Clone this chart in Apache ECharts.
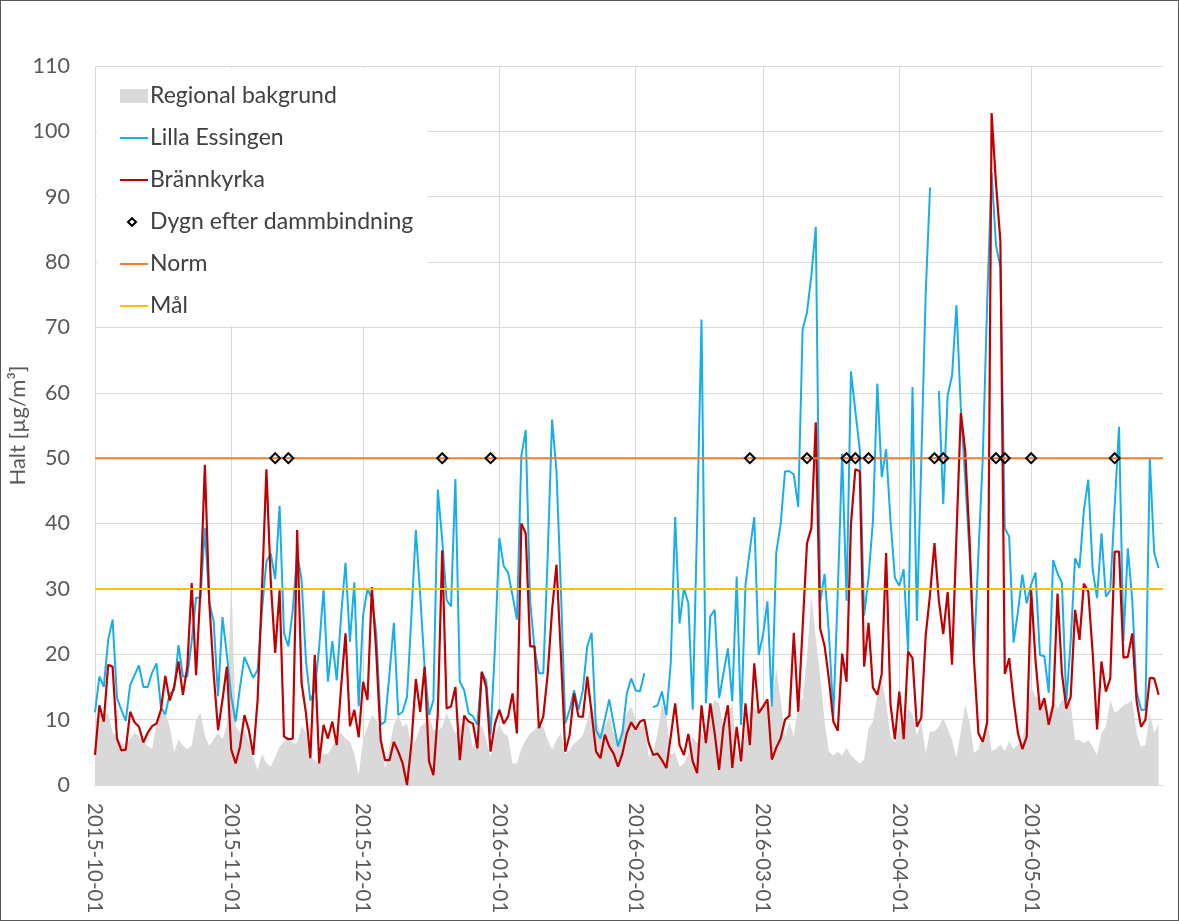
<!DOCTYPE html>
<html><head><meta charset="utf-8">
<script src="https://cdn.jsdelivr.net/npm/echarts@6/dist/echarts.min.js"></script>
<style>
html,body{margin:0;padding:0;background:#fff}
#c{width:1179px;height:921px;position:absolute;left:0;top:0}
#f{position:absolute;left:0;top:0;width:1179px;height:921px;box-sizing:border-box;border:1px solid #595959;pointer-events:none}
</style>
</head><body><div id="c"></div><div id="f"></div>
<script>
// ---- Data ----
const START_DATE = '2015-10-01';
const AXIS_DAYS = 244; // 2015-10-01 .. 2016-06-01 (axis end)

const regional = [
9.5,11,10.5,11,8,7.5,6.5,6,7,8,
7.5,6.5,6,5.5,9.5,11,11,9,5,7,
6,5.5,6,10,11,7.5,6,7,8,7,
9,32,9,8,8.5,6.6,4.3,2.3,4.8,3.3,
2.8,4.3,5.9,6.6,7.4,6.4,6.4,9,8,4.3,
3.8,3.3,4.8,4.8,5.9,6.9,8,7.1,6.6,4.8,
1.5,7,8.9,10.7,10,8,2.5,5.9,9.2,10.7,
8.9,9.4,5.9,6.9,8.9,9.4,10.5,8.4,8.2,8.9,
11,9.4,7.9,8.9,9.7,9.4,5.6,7.9,9.2,6.9,
4.3,7.9,9.2,7.9,7.4,3.3,3.3,5.6,6.9,7.9,
8.4,9.2,8.9,6.9,5.4,6.9,7.9,4.8,5.4,6.4,
6.9,7.6,9.9,12.5,9.9,7.9,8.9,10.5,7.9,6.9,
8.9,11,12,10,8.9,9.4,4.3,5.1,7.9,12.5,
10.7,4.6,5.1,2.8,3.3,4.8,7.4,6.4,7.9,6.9,
11.5,13,12.5,8.4,10.9,12.5,4.8,4.3,7.9,11,
12,11,12,12.6,12,17.8,13.2,7.4,9.7,7.4,
12.6,13.2,19.6,29,22.5,16.7,9.7,5.1,4.5,5.1,
4.5,5.7,4.5,3.9,3.3,3.9,8.6,9.7,13.8,16.1,
12.6,7.4,6.5,8.5,9.6,11.6,10.9,7.6,9.6,4.9,
8.2,8.2,8.9,10.3,8.6,6.9,4.2,8.2,12.3,9.6,
4.9,5.5,7.6,10.3,5.2,5.5,6.2,5.2,6.6,5.5,
6.2,6.9,10.5,15,13.5,13.3,12.5,11,13,11.7,
13,13,12.5,6.9,6.9,6.4,6.9,5.9,4.6,7.9,
8.9,13,11,11.5,12.2,12.5,13,7.9,5.9,6.1,
11,7.9,9.4
];

const lillaEssingen = [
11.1,16.6,15,22.2,25.3,13.3,11.5,9.8,15.3,16.8,
18.3,15,15,17.2,18.6,11.9,10.8,14,14.5,21.4,
16.6,16.6,22,28.7,28.6,39.3,28,25,13.6,25.7,
20,13.5,9.7,15,19.6,18,16.4,17.6,26.8,34.2,
35.4,31.5,42.7,23.2,21.2,26.8,35.5,31.4,19,12.9,
14.5,21,30,15.8,22,16,26,34,21.9,31,
12,26,30,28.5,23.2,9.2,9.7,17,24.8,10.7,
11.2,13.5,26,39,29,18,10.7,13,45.2,37.5,
28.3,27.3,46.8,15.8,14.5,11,10.5,9.2,17.3,16,
7.7,21,37.8,33.5,32.5,29,25.3,50.3,54.3,28,
21,17.1,17.1,35,55.9,48,30,9.4,11.5,14.5,
11.5,14.5,21.2,23.3,8.4,7.1,10,13.1,9.4,5.9,
7.9,14,16.3,14.5,14.3,17.1,null,11.9,12.2,14.3,
10.7,18.6,41,24.7,30.1,27.8,11.5,40,71.2,12.5,
25.8,26.8,13.3,17.1,20.9,12.8,31.9,9.2,30.6,36,
41,19.9,23,28.1,12,35.5,39.9,48,48,47.5,
42.5,69.7,72.3,78,85.4,28,32.3,23,10.6,29.4,
50.7,28.2,63.3,57.2,51.4,25.9,31.7,40.4,61.4,47.1,
51.4,40.4,31.7,30.5,33,20.4,60.9,25.1,49.5,75.1,
91.4,null,60.3,43,59.6,62.6,73.4,57.6,46.8,35.3,
19.7,35.3,50.1,74,93.7,82.6,79.2,39.3,38,21.8,
26.5,32.2,27.8,30.7,32.5,19.9,19.7,14.1,34.4,32.4,
30.9,12.8,22,34.7,33.2,42.1,46.7,32.9,28.6,38.5,
28.8,29.8,42.6,54.8,22,36.2,28.3,14.3,11.5,11.5,
50,35.5,33.2
];

const brannkyrka = [
4.6,12.2,9.7,18.4,18.1,7.1,5.3,5.4,11.2,9.6,
8.9,6.5,8,9,9.4,11.5,16.7,12.9,15,18.9,
13.8,18.1,30.9,16.8,30,49,28,17,8.4,13,
18.1,5.4,3.3,5.9,10.7,8.4,4.6,13,30,48.3,
31,20.2,29.8,7.4,7,7.1,39,15.6,11,4.1,
19.9,3.3,9.2,7.1,9.7,6.1,15,23.2,9,11.5,
7.3,15.8,13,30.3,20.2,6.9,3.8,3.8,6.6,5.1,
3.3,0,6.4,16.2,11.2,18.1,3.6,1.5,11,35.9,
11.7,12,15,3.8,10.6,9.7,9.4,5.6,17.3,15,
5.1,9.4,11.5,9.4,10.5,14,7.9,40,38.5,21.2,
21.2,8.7,10.5,17,26.8,33.7,20,5.1,7.7,14,
10.5,10.4,16.6,11,5.1,4.1,7.7,5.9,4.8,2.8,
4.8,7.9,9.6,8.5,9.7,10,6.4,4.6,4.8,3.8,
2.6,7.4,12.5,6.1,4.6,7.8,3.6,1.8,12.2,6.4,
12.5,7.9,2.3,8.9,12.2,2.6,8.9,3.6,12.5,6.1,
18.6,11,12,13.1,3.9,5.7,7.1,10,10.6,23.3,
11.2,24,37,39.3,55.5,23.9,21.3,16.1,9.7,8.3,
20.1,15.8,39.9,48.3,48,18.1,24.8,14.9,13.8,17,
35.5,12.3,7,14.3,7,20.4,19.4,8.9,10.3,22.8,
29.2,37,28.2,23.1,29.5,18.4,38,56.9,51.1,37.3,
19.1,7.9,6.6,9.6,102.8,92,83.2,17,19.4,13,
7.9,5.5,7.4,29.8,19,11.5,13.3,9.2,12.2,29.3,
17.1,11.7,13.5,26.8,22.2,30.8,29.6,20.2,8.5,18.9,
14.3,16.3,35.7,35.7,19.5,19.6,23.2,12.8,8.9,10,
16.4,16.3,13.8
];

const markerDates = [
'2015-11-11','2015-11-14','2015-12-19','2015-12-30','2016-02-27',
'2016-03-11','2016-03-20','2016-03-22','2016-03-25','2016-04-09',
'2016-04-11','2016-04-23','2016-04-25','2016-05-01','2016-05-20'
];

const NORM = 50;
const MAL = 30;
const Y_MIN = 0, Y_MAX = 110, Y_STEP = 10;

// ---- Category axis (dates) ----
function fmt(d){
  const m = String(d.getUTCMonth()+1).padStart(2,'0');
  const dd = String(d.getUTCDate()).padStart(2,'0');
  return d.getUTCFullYear()+'-'+m+'-'+dd;
}
const categories = [];
{
  const t0 = Date.parse(START_DATE+'T00:00:00Z');
  for (let i=0;i<AXIS_DAYS;i++) categories.push(fmt(new Date(t0 + i*86400000)));
}
const lastIdx = categories.length-1;
const isMonthStart = (i) => categories[i].endsWith('-01');

const FONT = 'Lato, "Open Sans", sans-serif';
const LINE_ICON = 'path://M0,0M28,0M28,14M0,14M0,6H28V8H0Z';
const DIAMOND_ICON = 'path://M0,0M28,0M28,14M0,14M12,3.2L16,7L12,10.8L8,7Z';

const chart = echarts.init(document.getElementById('c'), null, {renderer:'canvas'});

chart.setOption({
  animation:false,
  backgroundColor:'#fff',
  grid:{left:95, right:16, top:66, bottom:136, containLabel:false, outerBoundsMode:'none'},
  legend:{
    orient:'vertical', left:97, top:68,
    padding:[16,14,8,22],
    backgroundColor:'#ffffff',
    itemWidth:28, itemHeight:14, itemGap:18,
    textStyle:{fontFamily:FONT, fontSize:23, color:'#404040', lineHeight:24, padding:[0,0,0,-3]},
    data:[
      {name:'Regional bakgrund', icon:'rect'},
      {name:'Lilla Essingen', icon:LINE_ICON},
      {name:'Brännkyrka', icon:LINE_ICON},
      {name:'Dygn efter dammbindning', icon:DIAMOND_ICON},
      {name:'Norm', icon:LINE_ICON},
      {name:'Mål', icon:LINE_ICON}
    ]
  },
  xAxis:{
    type:'category', data:categories, boundaryGap:false,
    axisLine:{show:true, lineStyle:{color:'#d9d9d9', width:1}},
    axisTick:{show:false},
    axisLabel:{
      interval:(i)=> isMonthStart(i) && i<lastIdx,
      rotate:-90, margin:18,
      fontFamily:FONT, fontSize:20.5, color:'#595959'
    },
    splitLine:{show:true, interval:isMonthStart, lineStyle:{color:'#d9d9d9', width:1}}
  },
  yAxis:{
    type:'value', min:Y_MIN, max:Y_MAX, interval:Y_STEP,
    name:'Halt [µg/m³]', nameLocation:'middle', nameRotate:90, nameGap:66,
    nameMoveOverlap:false,
    nameTextStyle:{fontFamily:FONT, fontSize:22, color:'#595959'},
    axisLine:{show:false}, axisTick:{show:false},
    axisLabel:{fontFamily:FONT, fontSize:21.5, color:'#595959', margin:25},
    splitLine:{lineStyle:{color:'#d9d9d9', width:1}}
  },
  series:[
    {name:'Regional bakgrund', type:'line', data:regional, symbol:'none',
     lineStyle:{width:0, color:'#d9d9d9'}, itemStyle:{color:'#d9d9d9'},
     areaStyle:{color:'#d9d9d9', opacity:1}, z:1},
    {name:'Lilla Essingen', type:'line', data:lillaEssingen, symbol:'none', connectNulls:false,
     lineStyle:{width:2, color:'#18aee8'}, itemStyle:{color:'#18aee8'}, z:2},
    {name:'Brännkyrka', type:'line', data:brannkyrka, symbol:'none',
     lineStyle:{width:2.2, color:'#c00000'}, itemStyle:{color:'#c00000'}, z:3},
    {name:'Norm', type:'line', data:[[0,NORM],[lastIdx,NORM]], symbol:'none',
     lineStyle:{width:2, color:'#ed7d31'}, itemStyle:{color:'#ed7d31'}, z:4},
    {name:'Mål', type:'line', data:[[0,MAL],[lastIdx,MAL]], symbol:'none',
     lineStyle:{width:2, color:'#ffc000'}, itemStyle:{color:'#ffc000'}, z:4},
    {name:'Dygn efter dammbindning', type:'scatter',
     data:markerDates.map(d=>[categories.indexOf(d), NORM]),
     symbol:'diamond', symbolSize:10,
     itemStyle:{color:'rgba(255,255,255,0)', borderColor:'#000', borderWidth:2, opacity:1}, z:5}
  ]
});
</script>
</body></html>
